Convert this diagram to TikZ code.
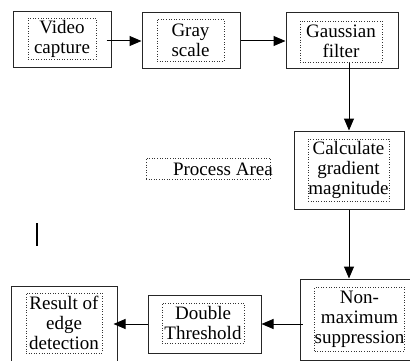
\documentclass[tikz,border=0pt]{standalone}
\usepackage{fontspec}
\setmainfont{Liberation Serif}
\usetikzlibrary{arrows.meta}
\begin{document}
\begin{tikzpicture}[x=1pt,y=-1pt,
  box/.style={draw=black!85,line width=1pt,inner sep=0pt},
  txt/.style={draw=black!80,dotted,line width=0.6pt,inner sep=0pt,align=center,font=\fontsize{19}{20}\selectfont},
  flow/.style={-{Triangle[length=12pt,width=10pt]},line width=1pt}]
\useasboundingbox (0,0) rectangle (410,361);
\clip (0,0) rectangle (410,361);

\node[box,minimum width=98pt,minimum height=56pt] (video) at (62,40) {};
\node[box,minimum width=98pt,minimum height=56pt] (gray) at (191,41) {};
\node[box,minimum width=112pt,minimum height=56pt] (gauss) at (342,41) {};
\node[box,minimum width=110pt,minimum height=78pt] (grad) at (349,170) {};
\node[box,minimum width=120pt,minimum height=81pt] (nonmax) at (360,319.5) {};
\node[box,minimum width=113pt,minimum height=58pt] (thresh) at (204.5,324) {};
\node[box,minimum width=106pt,minimum height=84pt] (result) at (64,328) {};

\node[txt,minimum width=68pt,minimum height=41pt] (videotxt) at (62,38.5) {Video\\capture};
\node[txt,minimum width=67pt,minimum height=42pt] (graytxt) at (190.5,40) {Gray\\scale};
\node[txt,minimum width=82pt,minimum height=41pt] (gausstxt) at (341,41.5) {Gaussian\\filter};
\node[txt,minimum width=81pt,minimum height=62pt] (gradtxt) at (348.5,170) {Calculate\\gradient\\magnitude};
\node[txt,minimum width=87pt,minimum height=64pt] (nonmaxtxt) at (359.5,319) {Non-\\maximum\\suppression};
\node[txt,minimum width=82pt,minimum height=40pt] (threshtxt) at (203,323) {Double\\Threshold};
\node[txt,minimum width=76pt,minimum height=60pt] (resulttxt) at (64,323) {Result of\\edge\\detection};

\node[txt,minimum width=124pt,minimum height=21pt] (area) at (208,168.5) {};
\node[font=\fontsize{19}{20}\selectfont,anchor=base east,inner sep=0pt] (arealabel) at (273,175) {Process Area};

\draw[line width=2.3pt] (37,223) -- (37,246);

\draw[flow] ([xshift=-5pt]video.east |- gray.west) -- (gray.west);
\draw[flow] (gray.east) -- (gauss.west);
\draw[flow] ([yshift=6pt]gauss.south -| grad.north) -- (grad.north);
\draw[flow] (grad.south) -- (grad.south |- nonmax.north);
\draw[flow] ([xshift=3pt]nonmax.west |- thresh.east) -- (thresh.east);
\draw[flow] (thresh.west) -- ([xshift=-4pt]result.east |- thresh.west);

\end{tikzpicture}
\end{document}
